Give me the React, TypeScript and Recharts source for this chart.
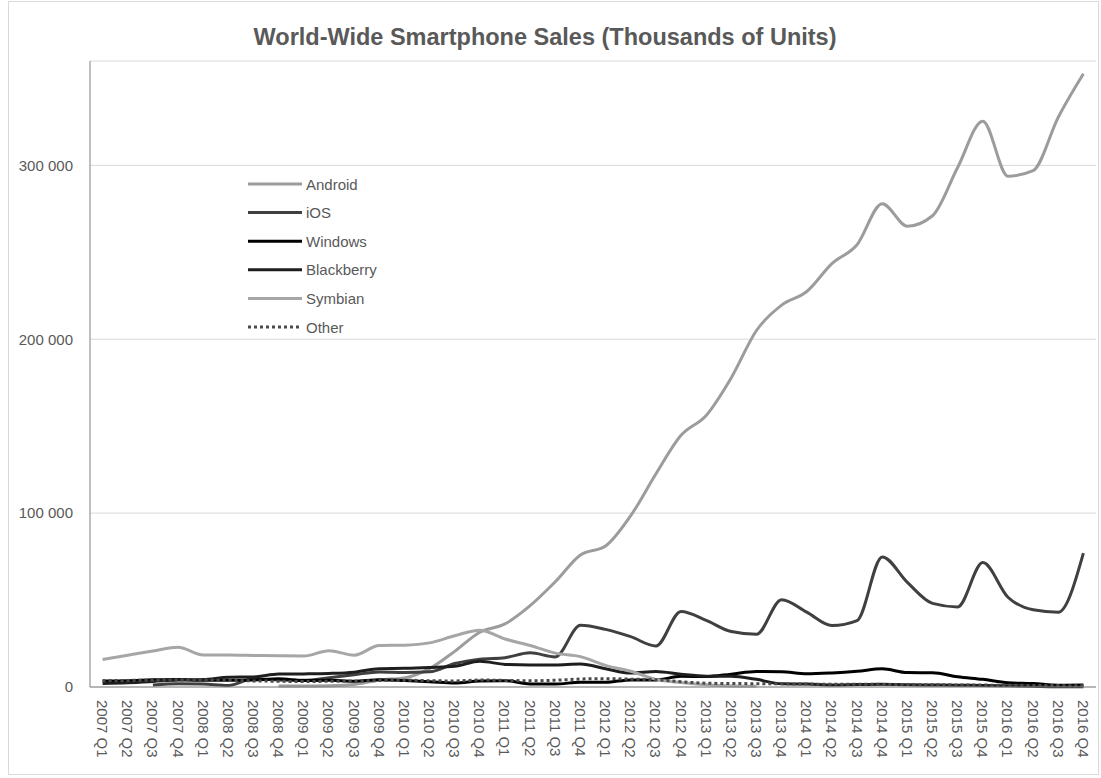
import React from 'react';
import { LineChart, Line, XAxis, YAxis, CartesianGrid, Legend } from 'recharts';

// Quarter labels along the category axis
const quarters = [
  '2007 Q1', '2007 Q2', '2007 Q3', '2007 Q4',
  '2008 Q1', '2008 Q2', '2008 Q3', '2008 Q4',
  '2009 Q1', '2009 Q2', '2009 Q3', '2009 Q4',
  '2010 Q1', '2010 Q2', '2010 Q3', '2010 Q4',
  '2011 Q1', '2011 Q2', '2011 Q3', '2011 Q4',
  '2012 Q1', '2012 Q2', '2012 Q3', '2012 Q4',
  '2013 Q1', '2013 Q2', '2013 Q3', '2013 Q4',
  '2014 Q1', '2014 Q2', '2014 Q3', '2014 Q4',
  '2015 Q1', '2015 Q2', '2015 Q3', '2015 Q4',
  '2016 Q1', '2016 Q2', '2016 Q3', '2016 Q4',
];

// Units sold per quarter, thousands
const android = [
  null, null, null, null,
  null, null, null, 639,
  575, 756, 1425, 4043,
  5227, 10606, 20500, 31500,
  36300, 46776, 60490, 75906,
  81067, 98529, 122480, 144720,
  156186, 177898, 205023, 219613,
  227434, 243484, 254354, 277938,
  265012, 271010, 298797, 325394,
  293771, 296912, 327674, 352670,
];

const ios = [
  null, null, 1128, 1928,
  1726, 893, 4720, 4079,
  3848, 5325, 7040, 8676,
  8360, 8743, 13484, 16011,
  16883, 19629, 17295, 35456,
  33121, 28935, 23550, 43457,
  38332, 31900, 30330, 50224,
  43062, 35345, 38187, 74832,
  60177, 48086, 46062, 71526,
  51630, 44395, 43001, 77039,
];

const windows = [
  3400, 3600, 4100, 4300,
  3858, 3874, 4053, 4714,
  3739, 3830, 3260, 4203,
  3696, 3059, 2247, 3419,
  3659, 1724, 1702, 2759,
  2713, 4087, 4058, 6186,
  5989, 7408, 8912, 8760,
  7580, 8095, 9033, 10425,
  8271, 8198, 5874, 4395,
  2400, 1971, 1046, 1092,
];

const blackberry = [
  2080, 2471, 3192, 4025,
  4312, 5594, 5800, 7443,
  7534, 7782, 8523, 10552,
  10753, 11229, 11908, 14762,
  13004, 12652, 12701, 13185,
  10500, 7991, 8947, 7333,
  6219, 6180, 4401, 1807,
  1714, 1153, 1420, 1600,
  1325, 1153, 977, 907,
  660, 400, 200, 208,
];

const symbian = [
  15844, 18273, 20664, 22903,
  18400, 18405, 18179, 17949,
  17825, 20881, 18315, 23857,
  24068, 25387, 29480, 32642,
  27599, 23853, 19500, 17458,
  12467, 9072, 4405, 2569,
  1349, 631, 457, null,
  null, null, null, null,
  null, null, null, null,
  null, null, null, null,
];

const other = [
  3600, 3800, 3900, 4100,
  4000, 3800, 3500, 3300,
  3100, 3300, 3400, 3700,
  3900, 3600, 3500, 4000,
  3800, 3600, 3900, 4600,
  4800, 4500, 4200, 3000,
  2200, 2000, 1900, 1800,
  1700, 1600, 1600, 1500,
  1400, 1300, 1200, 1100,
  1000, 900, 800, 700,
];

const yTicks = [0, 100000, 200000, 300000];

const series = [
  { key: 'android', name: 'Android', values: android, color: '#9c9c9c', dash: undefined },
  { key: 'ios', name: 'iOS', values: ios, color: '#404040', dash: undefined },
  { key: 'windows', name: 'Windows', values: windows, color: '#000000', dash: undefined },
  { key: 'blackberry', name: 'Blackberry', values: blackberry, color: '#1e1e1e', dash: undefined },
  { key: 'symbian', name: 'Symbian', values: symbian, color: '#a6a6a6', dash: undefined },
  { key: 'other', name: 'Other', values: other, color: '#4a4a4a', dash: '3 3' },
];

const data = quarters.map((q, i) => {
  const row: Record<string, string | number | null> = { q };
  series.forEach((s) => {
    row[s.key] = s.values[i];
  });
  return row;
});

const FONT = '"Liberation Sans", Arial, sans-serif';
const TEXT = '#595959';

// half of one category band, so points sit between the gridline edges
const HALF_BAND = 12.6;

const formatThousands = (v: number) =>
  String(v).replace(/\B(?=(\d{3})+(?!\d))/g, ' ');

const QuarterTick = (props: any) => {
  const { x, payload } = props;
  const y = 700;
  return (
    <text
      x={x}
      y={y}
      transform={`rotate(90, ${x}, ${y})`}
      textAnchor="start"
      dominantBaseline="central"
      fontFamily={FONT}
      fontSize={15}
      fill={TEXT}
    >
      {payload.value}
    </text>
  );
};

const SeriesLegend = () => (
  <svg width={200} height={170}>
    {series.map((s, i) => (
      <g key={s.key} transform={`translate(0, ${14 + i * 28.6})`}>
        <line
          x1={8}
          x2={62}
          y1={0}
          y2={0}
          stroke={s.color}
          strokeWidth={3}
          strokeDasharray={s.dash}
        />
        <text
          x={66}
          y={0}
          dominantBaseline="central"
          fontFamily={FONT}
          fontSize={15}
          fill={TEXT}
        >
          {s.name}
        </text>
      </g>
    ))}
  </svg>
);

export default function App() {
  return (
    <div
      style={{
        position: 'absolute',
        left: 0,
        top: 0,
        width: 1101,
        height: 778,
        background: '#ffffff',
      }}
    >
      <div
        style={{
          position: 'absolute',
          left: 8,
          top: 1,
          width: 1091,
          height: 774,
          border: '1px solid #d9d9d9',
          boxSizing: 'border-box',
        }}
      />
      <div
        style={{
          position: 'absolute',
          left: 0,
          top: 23,
          width: 1090,
          textAlign: 'center',
          fontFamily: FONT,
          fontWeight: 'bold',
          fontSize: 23.5,
          lineHeight: '28px',
          color: TEXT,
        }}
      >
        World-Wide Smartphone Sales (Thousands of Units)
      </div>
      <div style={{ position: 'absolute', left: 0, top: 0 }}>
        <LineChart
          width={1101}
          height={778}
          data={data}
          margin={{ top: 61, right: 5, left: 0, bottom: 0 }}
        >
          <CartesianGrid vertical={false} stroke="#d9d9d9" />
          <XAxis
            dataKey="q"
            interval={0}
            height={91}
            padding={{ left: HALF_BAND, right: HALF_BAND }}
            tickLine={false}
            axisLine={{ stroke: '#808080' }}
            tick={<QuarterTick />}
          />
          <XAxis
            xAxisId="top"
            dataKey="q"
            orientation="top"
            height={0}
            tick={false}
            tickLine={false}
            axisLine={{ stroke: '#808080' }}
          />
          <YAxis
            domain={[0, 360000]}
            ticks={yTicks}
            width={90}
            tickLine={false}
            axisLine={{ stroke: '#808080' }}
            tickSize={0}
            tickMargin={17}
            tickFormatter={formatThousands}
            tick={{ fontFamily: FONT, fontSize: 15, fill: TEXT }}
          />
          <YAxis
            yAxisId="right"
            orientation="right"
            domain={[0, 360000]}
            width={0}
            tick={false}
            tickLine={false}
            axisLine={{ stroke: '#808080' }}
          />
          <Legend
            layout="vertical"
            align="center"
            verticalAlign="middle"
            wrapperStyle={{ left: 240, top: 170, width: 200, height: 170 }}
            content={<SeriesLegend />}
          />
          {series.map((s) => (
            <Line
              key={s.key}
              type="monotone"
              dataKey={s.key}
              name={s.name}
              stroke={s.color}
              strokeWidth={3}
              strokeDasharray={s.dash}
              dot={false}
              activeDot={false}
              connectNulls={false}
              isAnimationActive={false}
            />
          ))}
        </LineChart>
      </div>
    </div>
  );
}
